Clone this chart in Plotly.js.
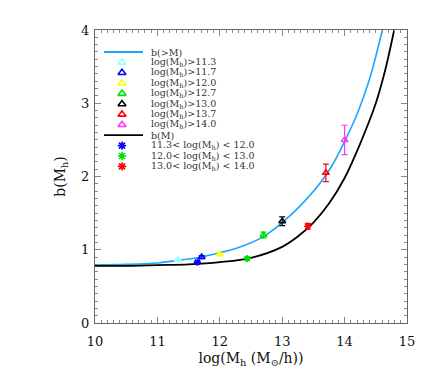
<!DOCTYPE html>
<html>
<head>
<meta charset="utf-8">
<script src="https://cdn.plot.ly/plotly-3.0.1.min.js"></script>
<style>
  html, body { margin: 0; padding: 0; background: #fff; }
  #main_graph { width: 436px; height: 383px; }
</style>
</head>
<body>
<div id="main_graph"></div>
<script>
// b(>M) curve
let cum_x = [10, 10.5, 11, 11.3, 11.7, 12.0, 12.3, 12.7, 13.0, 13.3, 13.6, 13.8, 14.0, 14.2, 14.4, 14.6, 14.65];
let cum_y = [0.79, 0.80, 0.82, 0.85, 0.90, 0.96, 1.03, 1.18, 1.37, 1.61, 1.90, 2.15, 2.48, 2.85, 3.33, 3.98, 4.15];

// b(M) curve
let diff_x = [10, 10.5, 11, 11.5, 12.0, 12.5, 13.0, 13.25, 13.5, 13.75, 14.0, 14.25, 14.5, 14.65, 14.8, 14.85];
let diff_y = [0.78, 0.78, 0.79, 0.80, 0.83, 0.89, 1.04, 1.18, 1.37, 1.63, 1.98, 2.45, 3.00, 3.45, 4.02, 4.22];

// triangles: b(>M) measurements
let tri_names = ['11.3', '11.7', '12.0', '12.7', '13.0', '13.7', '14.0'];
let tri_x = [11.33, 11.71, 12.0, 12.7, 13.0, 13.7, 14.0];
let tri_y = [0.86, 0.90, 0.94, 1.20, 1.39, 2.05, 2.50];
let tri_err = [0.01, 0.02, 0.015, 0.04, 0.06, 0.12, 0.20];
let tri_colors = ['#99ffff', '#0000ff', '#ffff00', '#00dd00', '#000000', '#ff0000', '#ff33ff'];

// stars: b(M) measurements in bins
let star_names = ['11.3&lt; log(M<sub>h</sub>) &lt; 12.0', '12.0&lt; log(M<sub>h</sub>) &lt; 13.0', '13.0&lt; log(M<sub>h</sub>) &lt; 14.0'];
let star_x = [11.64, 12.44, 13.41];
let star_y = [0.83, 0.88, 1.32];
let star_err = [0.015, 0.02, 0.04];
let star_colors = ['#0000ff', '#00dd00', '#ff0000'];

let cum_color = '#1aa6ff';
let serif = 'DejaVu Serif, Liberation Serif, serif';

let traces = [];

traces.push({
    type: 'scatter', mode: 'lines', x: cum_x, y: cum_y,
    line: {color: cum_color, width: 1.6, shape: 'spline', smoothing: 1.0}
});
traces.push({
    type: 'scatter', mode: 'lines', x: diff_x, y: diff_y,
    line: {color: '#000000', width: 1.8, shape: 'spline', smoothing: 1.0}
});

for (let i = 0; i < tri_x.length; i++)
{
    traces.push({
        type: 'scatter', mode: 'markers', x: [tri_x[i]], y: [tri_y[i]],
        marker: {symbol: 'triangle-up-open', size: 6, color: tri_colors[i], line: {width: 1.5, color: tri_colors[i]}},
        error_y: {type: 'data', array: [tri_err[i]], color: tri_colors[i], thickness: 1.2, width: 3}
    });
}
for (let i = 0; i < star_x.length; i++)
{
    traces.push({
        type: 'scatter', mode: 'markers', x: [star_x[i]], y: [star_y[i]],
        marker: {symbol: 'asterisk-open', size: 6, color: star_colors[i], line: {width: 1.6, color: star_colors[i]}},
        error_y: {type: 'data', array: [star_err[i]], color: star_colors[i], thickness: 1.2, width: 3}
    });
}

// hand-made legend on an overlay axis measured in pixels from the plot's top-left corner
let row_h = 10.4;
let row0 = 22;
let sym_x = 27;
let annotations = [];
let shapes = [];
let leg_sym_x = [], leg_sym_y = [], leg_sym_color = [], leg_sym_kind = [];

let rows = [];
rows.push({kind: 'line', color: cum_color, text: 'b(&gt;M)'});
for (let i = 0; i < tri_names.length; i++)
    rows.push({kind: 'triangle-up-open', color: tri_colors[i], text: 'log(M<sub>h</sub>)&gt;' + tri_names[i]});
rows.push({kind: 'line', color: '#000000', text: 'b(M)'});
for (let i = 0; i < star_names.length; i++)
    rows.push({kind: 'asterisk-open', color: star_colors[i], text: star_names[i]});

rows.forEach(function(r, i) {
    let yy = row0 + row_h * i;
    if (r.kind === 'line')
    {
        shapes.push({type: 'line', xref: 'x2', yref: 'y2', x0: 9, x1: 48, y0: yy, y1: yy,
                     line: {color: r.color, width: 1.8}});
    }
    else
    {
        leg_sym_x.push(sym_x);
        leg_sym_y.push(yy);
        leg_sym_color.push(r.color);
        leg_sym_kind.push(r.kind);
    }
    annotations.push({xref: 'x2', yref: 'y2', x: 55, y: yy, text: r.text, showarrow: false,
                      xanchor: 'left', yanchor: 'middle', borderpad: 0,
                      font: {family: serif, size: 9.5, color: '#333'}});
});

traces.push({
    type: 'scatter', mode: 'markers', xaxis: 'x2', yaxis: 'y2',
    x: leg_sym_x, y: leg_sym_y, hoverinfo: 'skip',
    marker: {symbol: leg_sym_kind, size: 7, color: leg_sym_color, line: {width: 1.6, color: leg_sym_color}}
});

let axis_common = {
    showline: true, linecolor: '#666', linewidth: 1, mirror: 'ticks',
    ticks: 'inside', ticklen: 6, tickcolor: '#888', tickwidth: 1,
    showgrid: false, zeroline: false,
    tickfont: {family: serif, size: 13, color: '#111'}
};

let layout = {
    width: 436, height: 383,
    margin: {l: 95, r: 29, t: 30, b: 60},
    paper_bgcolor: '#ffffff', plot_bgcolor: '#ffffff',
    showlegend: false,
    xaxis: Object.assign({}, axis_common, {
        range: [10, 15], dtick: 1, tick0: 10, ticklabelstandoff: 6,
        minor: {ticks: 'inside', ticklen: 3, dtick: 0.1, tickcolor: '#888'},
        title: {text: 'log(M<sub>h</sub> (M<sub>⊙</sub>/h))', font: {family: serif, size: 14, color: '#111'}, standoff: 5}
    }),
    yaxis: Object.assign({}, axis_common, {
        range: [0, 4], dtick: 1, tick0: 0, ticklabelstandoff: 2,
        minor: {ticks: 'inside', ticklen: 3, dtick: 0.1, tickcolor: '#888'},
        title: {text: 'b(M<sub>h</sub>)', font: {family: serif, size: 14, color: '#111'}, standoff: 12}
    }),
    xaxis2: {overlaying: 'x', range: [0, 312], visible: false, fixedrange: true},
    yaxis2: {overlaying: 'y', range: [293, 0], visible: false, fixedrange: true},
    annotations: annotations,
    shapes: shapes
};

Plotly.newPlot(document.getElementById('main_graph'), traces, layout, {staticPlot: true});
</script>
</body>
</html>
